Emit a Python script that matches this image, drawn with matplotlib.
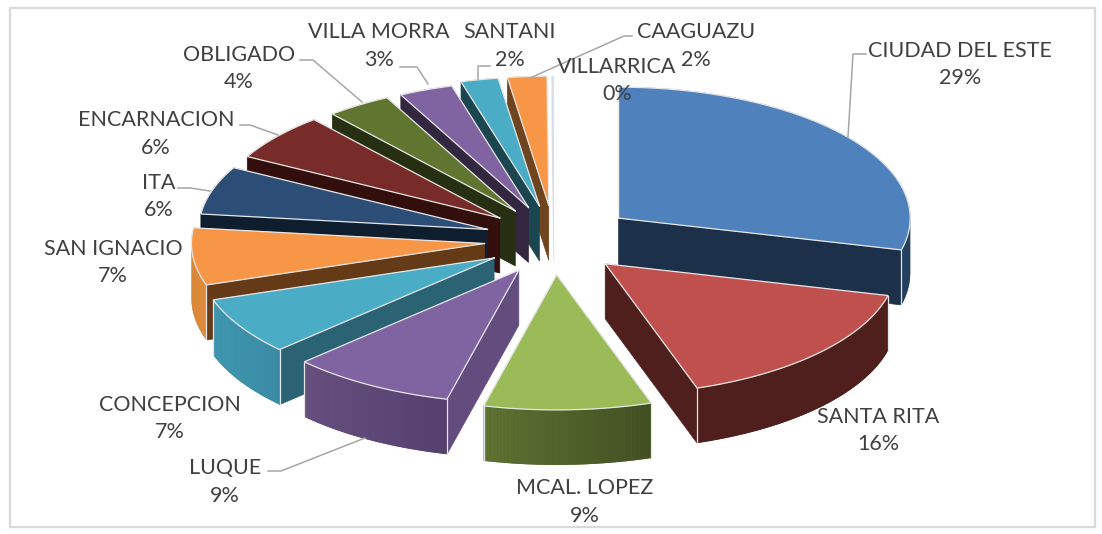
import numpy as np
import matplotlib
matplotlib.use("Agg")
import matplotlib.pyplot as plt
from matplotlib.patches import Polygon, Rectangle
from matplotlib.colors import to_rgb

# ---- data ----
categories = ["CIUDAD DEL ESTE", "SANTA RITA", "MCAL. LOPEZ", "LUQUE", "CONCEPCION",
              "SAN IGNACIO", "ITA", "ENCARNACION", "OBLIGADO", "VILLA MORRA",
              "SANTANI", "CAAGUAZU", "VILLARRICA"]
shares = [28.9, 16, 9, 9, 7, 7, 6, 5.9, 3.7, 3.1, 2.1, 2.2, 0.1]

# ---- style ----
explode_x = [0.277, .236, .236, .236, .236, .236, .236, .236, .236, .236, .236, .236, .236]
explode_y = [0.24, .236, .236, .236, .236, .236, .236, .236, .236, .236, .236, .236, .236]
rim_scale = [0.985, 0.985, 1.015, 1, 1, .99, .975, .97, .955, .95, .97, .97, .97]
top_colors = ["#4F81BD", "#C0504D", "#9BBB59", "#8064A2", "#4BACC6", "#F79646",
              "#2C4D75", "#772C2A", "#5F7530", "#8064A2", "#4BACC6", "#F79646", "#D8DEE8"]
wall_colors = ["#1C3049", "#4E1F1C", "#3F4E22", "#634C7E", "#2B6375", "#643A17",
               "#0F1E2E", "#320E0C", "#262F12", "#33263F", "#1B4650", "#6E451F", "#D8DEE8"]
outer_left = ["#24405F", "#4E1F1C", "#5F7332", "#67507F", "#4096B0", "#D88739",
              "#24405F", "#4E1F1C", "#3F4E22", "#4D3B62", "#276A7C", "#B65708", "#D8DEE8"]
outer_right = ["#24405F", "#4E1F1C", "#414F22", "#553F6E", "#3A8BA5", "#E08C3E",
               "#24405F", "#4E1F1C", "#3F4E22", "#4D3B62", "#276A7C", "#B65708", "#D8DEE8"]
label_pos = [(960, 51), (878, 417), (585, 488), (225, 468), (170, 405), (113, 249),
             (159, 183), (156, 120), (239, 55), (379, 32), (510, 32), (696, 32), (617, 67)]
leaders = [
    [(866, 54), (853, 54), (848, 137)],
    [(268, 471), (281, 471), (365, 438)],
    [(300, 60), (313, 60), (362, 102)],
    [(240, 125), (250, 125), (278, 135)],
    [(178, 188), (190, 188), (210, 191)],
    [(400, 67), (417, 67), (428, 84)],
    [(490, 66), (478, 66), (478, 79)],
    [(632, 36), (624, 36), (530, 78)],
]
CX, CY, RX, RY, SHIFT_Y, DEPTH = 554, 240, 296, 133, 148, 55
EDGE = "#E6E6E6"

fig = plt.figure(figsize=(11.02, 5.34), dpi=100)
ax = fig.add_axes([0, 0, 1, 1])
ax.set_xlim(0, 1102)
ax.set_ylim(534, 0)
ax.axis("off")
ax.add_patch(Rectangle((10, 7.5), 1085, 519.5, fc="white", ec="#D9D9D9", lw=1.6, zorder=0))

values = np.array(shares, dtype=float)
edges = np.concatenate([[0], np.cumsum(values)]) / values.sum() * 2 * np.pi


def mix(a, b, t):
    a, b = np.array(to_rgb(a)), np.array(to_rgb(b))
    return tuple(a + (b - a) * t)


mids = (edges[:-1] + edges[1:]) / 2
order = np.argsort(-np.cos(mids))
z = 1
for i in order:
    t0, t1, m = edges[i], edges[i + 1], mids[i]
    ax0 = CX + explode_x[i] * RX * np.sin(m)
    ay0 = CY - explode_y[i] * SHIFT_Y * np.cos(m)
    s = rim_scale[i]

    def rim(t):
        return ax0 + s * RX * np.sin(t), ay0 - s * RY * np.cos(t)

    ts = np.linspace(t0, t1, max(3, int((t1 - t0) * 90)))
    arc = np.array([rim(t) for t in ts])

    # radial walls facing the viewer
    for t, visible in ((t0, np.pi < t0 < 2 * np.pi), (t1, 0 < t1 < np.pi)):
        if visible:
            px, py = rim(t)
            ax.add_patch(Polygon([(ax0, ay0), (px, py), (px, py + DEPTH), (ax0, ay0 + DEPTH)],
                                 fc=wall_colors[i], ec=wall_colors[i], lw=0.5, zorder=z))
            z += 1

    # outer rim wall: a solid base, then thin strips for the gradient
    vis = np.r_[np.clip(t0, np.pi / 2, 3 * np.pi / 2),
                ts[(ts > np.pi / 2) & (ts < 3 * np.pi / 2)],
                np.clip(t1, np.pi / 2, 3 * np.pi / 2)]
    if vis[-1] - vis[0] > 1e-6:
        pts = np.array([rim(t) for t in vis])
        xmin, xmax = pts[:, 0].min(), pts[:, 0].max()
        base = np.vstack([pts, (pts + [0, DEPTH])[::-1]])
        ax.add_patch(Polygon(base, fc=mix(outer_left[i], outer_right[i], .5), ec="none", zorder=z))
        z += 1
        for a, b in zip(pts[:-1], pts[1:]):
            f = ((a[0] + b[0]) / 2 - xmin) / max(xmax - xmin, 1)
            col = mix(outer_left[i], outer_right[i], f)
            ax.add_patch(Polygon([a, b, (b[0], b[1] + DEPTH), (a[0], a[1] + DEPTH)],
                                 fc=col, ec="none", zorder=z))
        z += 1
        # corner highlights
        for t in (t0, t1):
            if np.pi / 2 < t < 3 * np.pi / 2:
                px, py = rim(t)
                ax.plot([px, px], [py, py + DEPTH], color=EDGE, lw=0.9, zorder=z)
        z += 1

    # top face
    ax.add_patch(Polygon(np.vstack([[ax0, ay0], arc]), closed=True, fc=top_colors[i],
                         ec=top_colors[i], lw=0.4, zorder=z))
    z += 1
    if values[i] > 1:
        ax.plot(np.r_[ax0, arc[:, 0], ax0], np.r_[ay0, arc[:, 1], ay0],
                color=EDGE, lw=0.9, zorder=z, solid_joinstyle="miter")
    z += 1

for pts in leaders:
    xs, ys = zip(*pts)
    ax.plot(xs, ys, color="#A6A6A6", lw=1.1, zorder=z)
z += 1

for name, v, (x, y) in zip(categories, values, label_pos):
    ax.text(x, y, name, ha="center", va="center", fontsize=15.5, family="Lato",
            color="#404040", zorder=z)
    ax.text(x, y + 27.5, f"{round(v)}%", ha="center", va="center", fontsize=15.5, family="Lato",
            color="#404040", zorder=z)

fig.savefig("out.png", dpi=100, facecolor="white")
